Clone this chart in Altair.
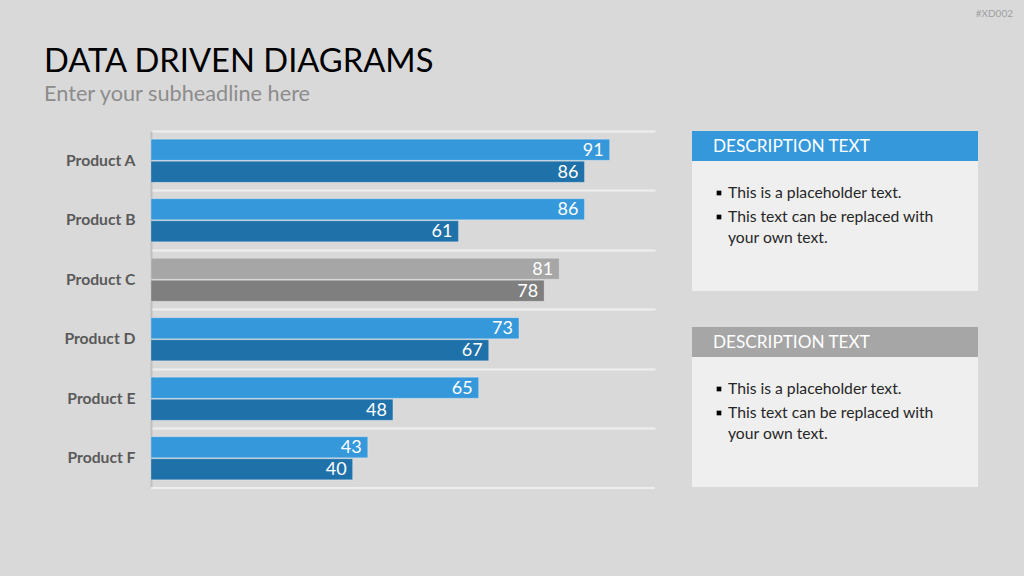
import altair as alt
import pandas as pd

PRODUCTS = ["Product A", "Product B", "Product C", "Product D", "Product E", "Product F"]
SERIES = ["Series 1", "Series 2"]
SERIES1 = [91, 86, 81, 73, 65, 43]
SERIES2 = [86, 61, 78, 67, 48, 40]
HIGHLIGHT = "Product C"

TITLE = "DATA DRIVEN DIAGRAMS"
SUBTITLE = "Enter your subheadline here"
TAG = "#XD002"
DESC_HEADER = "DESCRIPTION TEXT"
DESC_LINES = ["This is a placeholder text.", "This text can be replaced with", "your own text."]

TONES = ["blue-Series 1", "blue-Series 2", "gray-Series 1", "gray-Series 2"]
TONE_COLORS = ["#3598db", "#1f71aa", "#a6a6a6", "#7f7f7f"]

rows = []
for p, a, b in zip(PRODUCTS, SERIES1, SERIES2):
    base = "gray" if p == HIGHLIGHT else "blue"
    rows.append({"product": p, "series": SERIES[0], "value": a, "tone": f"{base}-{SERIES[0]}"})
    rows.append({"product": p, "series": SERIES[1], "value": b, "tone": f"{base}-{SERIES[1]}"})
df = pd.DataFrame(rows)

FONT = "Lato"
W, H = 504, 357

y_enc = alt.Y(
    "product:N", sort=PRODUCTS,
    scale=alt.Scale(paddingInner=0, paddingOuter=0),
    axis=alt.Axis(title=None, domainColor="#bfbfbf", domainWidth=2, ticks=False,
                  labelPadding=16, labelFont=FONT, labelFontSize=15.7, labelFontWeight="bold",
                  labelColor="#595959", grid=True, gridColor="#efefef", gridWidth=2,
                  bandPosition=0),
)
yoff = alt.YOffset("series:N", sort=SERIES,
                   scale=alt.Scale(paddingInner=0.045, paddingOuter=0.37))
x_enc = alt.X("value:Q", scale=alt.Scale(domain=[0, 100]), axis=None)

base = alt.Chart(df)

bars = base.mark_bar(stroke="white", strokeOpacity=0.25, strokeWidth=1).encode(
    x=x_enc, y=y_enc, yOffset=yoff,
    color=alt.Color("tone:N", scale=alt.Scale(domain=TONES, range=TONE_COLORS), legend=None),
)
labels = base.mark_text(align="right", baseline="middle", dx=-6, dy=1, color="white",
                        font=FONT, fontSize=18).encode(
    x=x_enc, y=alt.Y("product:N", sort=PRODUCTS), yOffset=yoff, text="value:Q",
)

one = alt.Data(values=[{}])

bottom_rule = alt.Chart(one).mark_rule(color="#efefef", strokeWidth=2).encode(
    x=alt.value(0), x2=alt.value(W), y=alt.value(H))

title = alt.Chart(one).mark_text(align="left", baseline="alphabetic", font=FONT, fontSize=32.7,
                                 color="#000000", text=TITLE).encode(
    x=alt.value(-107), y=alt.value(-59))
subtitle = alt.Chart(one).mark_text(align="left", baseline="alphabetic", font=FONT, fontSize=21.7,
                                    color="#8c8c8c", text=SUBTITLE).encode(
    x=alt.value(-107), y=alt.value(-30))
tag = alt.Chart(one).mark_text(align="right", baseline="middle", font=FONT, fontSize=10,
                               color="#a0a0a0", text=TAG).encode(
    x=alt.value(862), y=alt.value(-117))

layers = [bars, labels, bottom_rule, title, subtitle, tag]

BX0, BX1 = 541, 827
for top, hcolor in [(0, "#3598db"), (196, "#a6a6a6")]:
    layers.append(alt.Chart(one).mark_rect(color="#efefef").encode(
        x=alt.value(BX0), x2=alt.value(BX1), y=alt.value(top), y2=alt.value(top + 160)))
    layers.append(alt.Chart(one).mark_rect(color=hcolor).encode(
        x=alt.value(BX0), x2=alt.value(BX1), y=alt.value(top), y2=alt.value(top + 30)))
    layers.append(alt.Chart(one).mark_text(align="left", baseline="middle", font=FONT, fontSize=17.2,
                                           color="white", text=DESC_HEADER).encode(
        x=alt.value(562), y=alt.value(top + 16)))
    for i, (line, dy) in enumerate(zip(DESC_LINES, [62, 86, 107])):
        if i < 2:
            layers.append(alt.Chart(one).mark_square(size=22, color="#000000", opacity=1).encode(
                x=alt.value(568), y=alt.value(top + dy)))
        layers.append(alt.Chart(one).mark_text(align="left", baseline="middle", font=FONT,
                                               fontSize=15.7, color="#262626", text=line).encode(
            x=alt.value(577), y=alt.value(top + dy)))

chart = alt.layer(*layers).properties(
    width=W, height=H,
    autosize=alt.AutoSizeParams(type="none"),
    padding={"left": 151, "top": 131, "right": 369, "bottom": 88},
).configure(background="#d9d9d9").configure_view(strokeWidth=0)

chart.save("out.html", embed_options={"renderer": "svg", "actions": False})
